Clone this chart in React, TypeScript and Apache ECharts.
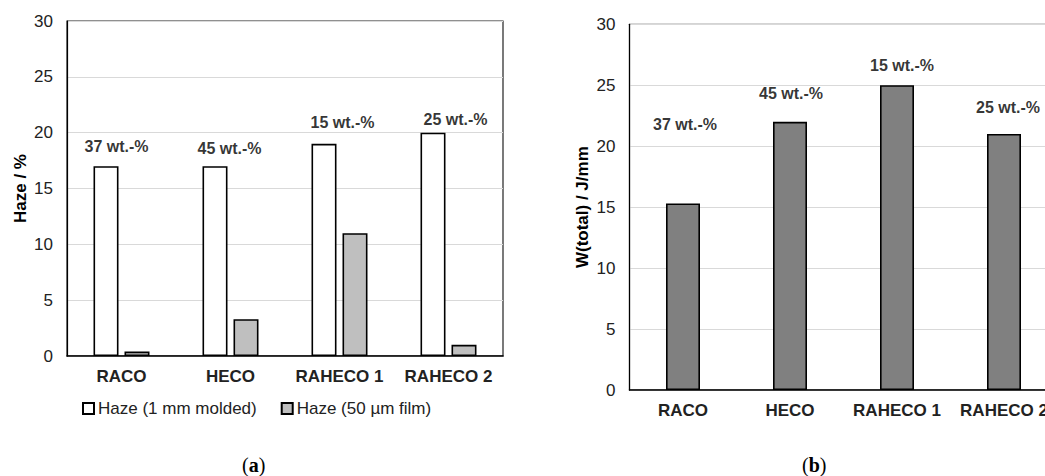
import React, { useEffect, useRef } from "react";
import * as echarts from "echarts";

// ---- data ----
const categories = ["RACO", "HECO", "RAHECO 1", "RAHECO 2"];
const hazeMolded = [17, 17, 19, 20];
const hazeFilm = [0.4, 3.3, 11, 1];
const wTotal = [15.3, 22, 25, 21];
const contentLabels = ["37 wt.-%", "45 wt.-%", "15 wt.-%", "25 wt.-%"];
// annotation heights, read in value units from the picture
const annotLevelA = [18.8, 18.6, 20.9, 21.2];
const annotLevelB = [21.8, 24.3, 26.6, 23.2];
const yTicks = [0, 5, 10, 15, 20, 25, 30];
const legendNames = ["Haze (1 mm molded)", "Haze (50 µm film)"];

// ---- style ----
const FONT = "'Liberation Sans', Arial, sans-serif";
const annotDxA = [-5, -1, 3, 7];
const annotDxB = [2, 1, 5, 4];

export default function App() {
  const ref = useRef<HTMLDivElement>(null);
  useEffect(() => {
    if (!ref.current) return;
    const chart = echarts.init(ref.current, null, { renderer: "svg" });
    const yMin = yTicks[0];
    const yMax = yTicks[yTicks.length - 1];
    const yInt = yTicks[1] - yTicks[0];

    const yAxisBase = (name: string, gap: number) => ({
      type: "value" as const,
      min: yMin,
      max: yMax,
      interval: yInt,
      name,
      nameLocation: "middle" as const,
      nameRotate: 90,
      nameGap: gap,
      nameTextStyle: { fontFamily: FONT, fontSize: 17, fontWeight: "bold" as const, color: "#000" },
      axisLine: { show: true, lineStyle: { color: "#000", width: 1.2 } },
      axisTick: { show: false },
      axisLabel: { fontFamily: FONT, fontSize: 17, color: "#222", margin: 14 },
      splitLine: { show: true, lineStyle: { color: "#d9d9d9", width: 1 } },
    });
    const xAxisBase = (gridIndex: number) => ({
      type: "category" as const,
      gridIndex,
      data: categories,
      axisLine: { show: true, lineStyle: { color: "#000", width: 1.5 } },
      axisTick: { show: false },
      axisLabel: { interval: 0, fontFamily: FONT, fontSize: 17, fontWeight: "bold" as const, color: "#222", margin: 12 },
    });

    const annotSeries = (xi: number, levels: number[], dx: number[]) => ({
      type: "scatter" as const,
      xAxisIndex: xi,
      yAxisIndex: xi,
      symbolSize: 1,
      itemStyle: { color: "rgba(0,0,0,0)" },
      silent: true,
      data: levels.map((v, i) => ({
        value: [i, v],
        label: {
          show: true,
          position: "inside" as const,
          offset: [dx[i], 0],
          formatter: contentLabels[i],
          fontFamily: FONT,
          fontSize: 16,
          fontWeight: "bold" as const,
          color: "#000",
        },
      })),
    });

    chart.setOption({
      animation: false,
      backgroundColor: "#fff",
      grid: [
        { left: 67, top: 21, width: 436, height: 335, show: true, borderColor: "#222", borderWidth: 1.2, backgroundColor: "transparent" },
        { left: 629.5, top: 24.3, width: 428, height: 365.7, show: true, borderColor: "#555", borderWidth: 1.2, backgroundColor: "transparent" },
      ],
      xAxis: [xAxisBase(0), xAxisBase(1)],
      yAxis: [
        { ...yAxisBase("Haze / %", 38), gridIndex: 0 },
        { ...yAxisBase("W(total) / J/mm", 39), gridIndex: 1 },
      ],
      legend: {
        left: 82,
        top: 400,
        padding: 0,
        data: legendNames,
        icon: "rect",
        itemWidth: 11,
        itemHeight: 11,
        itemGap: 24,
        textStyle: { fontFamily: FONT, fontSize: 17, color: "#222", padding: [0, 0, 0, -1] },
      },
      series: [
        {
          name: legendNames[0],
          type: "bar",
          xAxisIndex: 0,
          yAxisIndex: 0,
          barWidth: 25,
          barGap: "24%",
          data: hazeMolded,
          itemStyle: { color: "#fff", borderColor: "#000", borderWidth: 1.6 },
        },
        {
          name: legendNames[1],
          type: "bar",
          xAxisIndex: 0,
          yAxisIndex: 0,
          barWidth: 25,
          barGap: "24%",
          data: hazeFilm,
          itemStyle: { color: "#bfbfbf", borderColor: "#000", borderWidth: 1.6 },
        },
        annotSeries(0, annotLevelA, annotDxA),
        {
          name: "W(total)",
          type: "bar",
          xAxisIndex: 1,
          yAxisIndex: 1,
          barWidth: 34,
          data: wTotal,
          itemStyle: { color: "#808080", borderColor: "#000", borderWidth: 1.6 },
        },
        annotSeries(1, annotLevelB, annotDxB),
      ],
      graphic: [
        {
          type: "text",
          left: 242,
          top: 455,
          style: {
            text: "({b|a})",
            rich: { b: { fontWeight: "bold", fontFamily: "'Liberation Serif', 'DejaVu Serif', serif", fontSize: 20, fill: "#000" } },
            fontFamily: "'Liberation Serif', 'DejaVu Serif', serif",
            fontSize: 20,
            fill: "#000",
          },
        },
        {
          type: "text",
          left: 802,
          top: 455,
          style: {
            text: "({b|b})",
            rich: { b: { fontWeight: "bold", fontFamily: "'Liberation Serif', 'DejaVu Serif', serif", fontSize: 20, fill: "#000" } },
            fontFamily: "'Liberation Serif', 'DejaVu Serif', serif",
            fontSize: 20,
            fill: "#000",
          },
        },
      ],
    });
    return () => chart.dispose();
  }, []);
  return (
    <div style={{ position: "absolute", left: 0, top: 0, width: 1045, height: 476, overflow: "hidden" }}>
      <div ref={ref} style={{ width: 1075, height: 476 }} />
    </div>
  );
}
